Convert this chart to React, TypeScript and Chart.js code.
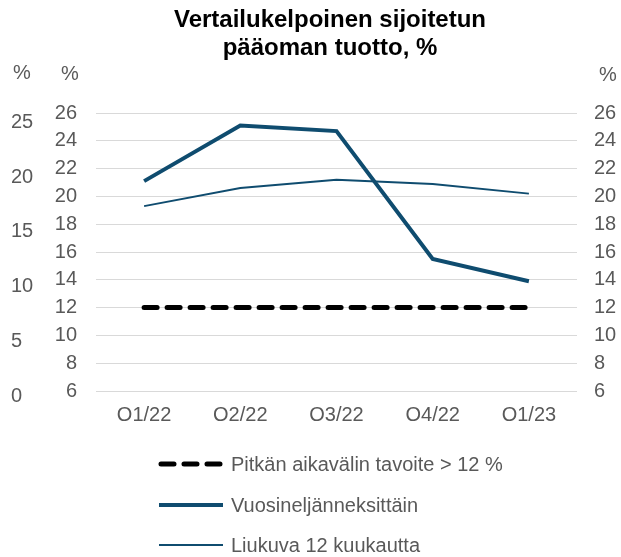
import React, { useEffect, useRef } from "react";
import { Chart, registerables } from "chart.js";

Chart.register(...registerables);

const titleLines = ["Vertailukelpoinen sijoitetun", "pääoman tuotto, %"];
const categories = ["Q1/22", "Q2/22", "Q3/22", "Q4/22", "Q1/23"];
const targetValues = [12, 12, 12, 12, 12];
const quarterlyValues = [21.1, 25.1, 24.7, 15.5, 13.9];
const rollingValues = [19.3, 20.6, 21.2, 20.9, 20.2];
const farLeftTicks = [0, 5, 10, 15, 20, 25];
const seriesNames = [
  "Pitkän aikavälin tavoite > 12 %",
  "Vuosineljänneksittäin",
  "Liukuva 12 kuukautta",
];
const unitLabel = "%";

const FONT = "'Liberation Sans', Arial, sans-serif";
const GRAY = "#595959";
const BLUE = "#0F4C6F";

const decorPlugin = {
  id: "decor",
  afterDraw(chart: any) {
    const ctx = chart.ctx;
    ctx.save();
    // title
    ctx.fillStyle = "#000";
    ctx.font = `bold 24px ${FONT}`;
    ctx.textAlign = "center";
    ctx.textBaseline = "middle";
    ctx.fillText(titleLines[0], 330, 20);
    ctx.fillText(titleLines[1], 330, 48);
    // unit labels
    ctx.fillStyle = GRAY;
    ctx.font = `20px ${FONT}`;
    ctx.fillText(unitLabel, 22, 73);
    ctx.fillText(unitLabel, 70, 74);
    ctx.fillText(unitLabel, 608, 75);
    // legend
    const ys = [464, 505, 545];
    chart.data.datasets.forEach((ds: any, i: number) => {
      const y = ys[i];
      ctx.beginPath();
      ctx.strokeStyle = ds.borderColor;
      ctx.lineWidth = ds.borderWidth;
      ctx.lineCap = ds.borderCapStyle || "butt";
      ctx.setLineDash(ds.borderDash || []);
      ctx.moveTo(i === 0 ? 161 : 159, y);
      ctx.lineTo(i === 0 ? 221 : 223, y);
      ctx.stroke();
      ctx.setLineDash([]);
      ctx.fillStyle = GRAY;
      ctx.font = `20px ${FONT}`;
      ctx.textAlign = "left";
      ctx.textBaseline = "middle";
      ctx.fillText(ds.label, 231, y + 1);
    });
    ctx.restore();
  },
};

export default function App() {
  const ref = useRef<HTMLCanvasElement>(null);
  useEffect(() => {
    document.body.style.margin = "0";
    const chart = new Chart(ref.current!, {
      type: "line",
      data: {
        labels: categories,
        datasets: [
          {
            label: seriesNames[0],
            data: targetValues,
            borderColor: "#000000",
            backgroundColor: "#000000",
            borderWidth: 5,
            borderDash: [13, 10],
            borderCapStyle: "round",
            pointRadius: 0,
            yAxisID: "y",
          },
          {
            label: seriesNames[1],
            data: quarterlyValues,
            borderColor: BLUE,
            backgroundColor: BLUE,
            borderWidth: 4,
            pointRadius: 0,
            tension: 0,
            yAxisID: "y",
          },
          {
            label: seriesNames[2],
            data: rollingValues,
            borderColor: BLUE,
            backgroundColor: BLUE,
            borderWidth: 2,
            pointRadius: 0,
            tension: 0,
            yAxisID: "y",
          },
        ],
      },
      options: {
        responsive: false,
        animation: false,
        layout: { padding: { top: 113, left: 11, right: 0, bottom: 136 } },
        plugins: {
          legend: { display: false },
          title: { display: false },
          tooltip: { enabled: false },
        },
        scales: {
          x: {
            offset: true,
            grid: { display: false },
            border: { display: false },
            ticks: {
              color: GRAY,
              font: { family: FONT, size: 20 },
              padding: 4,
              maxRotation: 0,
            },
            afterFit: (s: any) => {
              s.height = 30;
            },
          },
          yFar: {
            position: "left",
            weight: 2,
            min: 0,
            max: 25.4,
            grid: { display: false },
            border: { display: false },
            afterBuildTicks: (s: any) => {
              s.ticks = farLeftTicks.map((v) => ({ value: v }));
            },
            ticks: {
              color: GRAY,
              font: { family: FONT, size: 20 },
              crossAlign: "far",
              labelOffset: 5,
              padding: 0,
            },
            afterFit: (s: any) => {
              s.width = 40;
            },
          },
          y: {
            position: "left",
            weight: 1,
            min: 6,
            max: 26,
            grid: { color: "#D9D9D9", lineWidth: 1, drawTicks: false },
            border: { display: false },
            ticks: {
              stepSize: 2,
              color: GRAY,
              font: { family: FONT, size: 20 },
              padding: 19,
            },
            afterFit: (s: any) => {
              s.width = 45;
            },
          },
          yR: {
            position: "right",
            min: 6,
            max: 26,
            grid: { display: false, drawTicks: false },
            border: { display: false },
            ticks: {
              stepSize: 2,
              color: GRAY,
              font: { family: FONT, size: 20 },
              padding: 17,
            },
            afterFit: (s: any) => {
              s.width = 44;
            },
          },
        },
      },
      plugins: [decorPlugin],
    } as any);
    return () => chart.destroy();
  }, []);
  return (
    <div style={{ width: 621, height: 557 }}>
      <canvas ref={ref} width={621} height={557} />
    </div>
  );
}
